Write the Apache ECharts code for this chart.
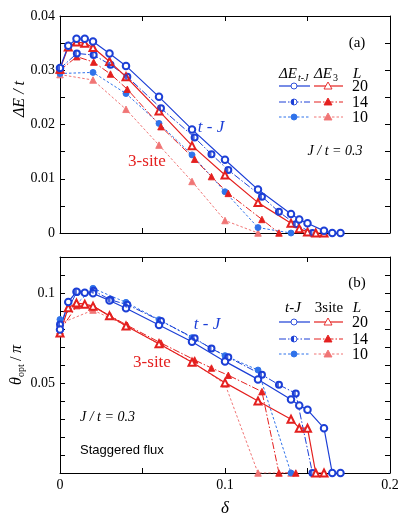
<!DOCTYPE html>
<html>
<head>
<meta charset="utf-8">
<script src="https://cdn.jsdelivr.net/npm/echarts@6/dist/echarts.min.js"></script>
<style>
  html, body { margin: 0; padding: 0; background: #fff; }
  #chart { width: 409px; height: 528px; }
</style>
</head>
<body>
<div id="chart"></div>
<script>
// ---- data: panel (a) energy gain dE/t vs doping ----
var dE_tJ_L20_x = [0, 0.005, 0.01, 0.015, 0.02, 0.03, 0.04, 0.06, 0.08, 0.1, 0.12, 0.14, 0.145, 0.15, 0.16, 0.165, 0.17];
var dE_tJ_L20_y = [0.0304, 0.0345, 0.0358, 0.0358, 0.0353, 0.0331, 0.0308, 0.0251, 0.0191, 0.0135, 0.0080, 0.0035, 0.0025, 0.0018, 0.0004, 0, 0];
var dE_3s_L20_x = [0, 0.005, 0.01, 0.015, 0.02, 0.03, 0.04, 0.06, 0.08, 0.1, 0.12, 0.14, 0.145, 0.15, 0.155, 0.16];
var dE_3s_L20_y = [0.0302, 0.0343, 0.0352, 0.0350, 0.0342, 0.0316, 0.0288, 0.0225, 0.0161, 0.0107, 0.0056, 0.0018, 0.0008, 0.0002, 0, 0];
var dE_tJ_L14_x = [0, 0.0102, 0.0204, 0.0306, 0.0408, 0.0612, 0.0816, 0.0918, 0.102, 0.1224, 0.1327, 0.1429, 0.153];
var dE_tJ_L14_y = [0.0303, 0.0331, 0.0328, 0.0310, 0.0288, 0.0230, 0.0176, 0.0145, 0.0116, 0.0067, 0.0039, 0.0016, 0];
var dE_3s_L14_x = [0, 0.0102, 0.0204, 0.0306, 0.0408, 0.0612, 0.0816, 0.0918, 0.102, 0.1224, 0.1327];
var dE_3s_L14_y = [0.0300, 0.0325, 0.0315, 0.0293, 0.0265, 0.0196, 0.0136, 0.0104, 0.0073, 0.0025, 0];
var dE_tJ_L10_x = [0, 0.02, 0.04, 0.06, 0.08, 0.1, 0.12, 0.14];
var dE_tJ_L10_y = [0.0294, 0.0296, 0.0257, 0.0202, 0.0144, 0.0076, 0.0010, 0];
var dE_3s_L10_x = [0, 0.02, 0.04, 0.06, 0.08, 0.1, 0.12];
var dE_3s_L10_y = [0.0292, 0.0282, 0.0228, 0.0162, 0.0095, 0.0023, 0];

// ---- data: panel (b) optimal flux theta/pi vs doping ----
var th_tJ_L20_x = [0, 0.005, 0.01, 0.015, 0.02, 0.03, 0.04, 0.06, 0.08, 0.1, 0.12, 0.14, 0.145, 0.15, 0.16, 0.165, 0.17];
var th_tJ_L20_y = [0.0797, 0.0950, 0.1007, 0.1002, 0.0998, 0.0958, 0.0915, 0.0822, 0.0729, 0.0620, 0.0520, 0.0408, 0.0375, 0.0351, 0.0249, 0, 0];
var th_3s_L20_x = [0, 0.005, 0.01, 0.015, 0.02, 0.03, 0.04, 0.06, 0.08, 0.1, 0.12, 0.14, 0.145, 0.15, 0.155, 0.16];
var th_3s_L20_y = [0.0778, 0.0918, 0.0944, 0.0938, 0.0927, 0.0873, 0.0817, 0.0718, 0.0615, 0.0502, 0.0400, 0.0299, 0.0249, 0.0249, 0, 0];
var th_tJ_L14_x = [0, 0.0102, 0.0204, 0.0306, 0.0408, 0.0612, 0.0816, 0.0918, 0.102, 0.1224, 0.1327, 0.1429, 0.153];
var th_tJ_L14_y = [0.0825, 0.1005, 0.1012, 0.0962, 0.0935, 0.0845, 0.0748, 0.0691, 0.0643, 0.0546, 0.0490, 0.0442, 0];
var th_3s_L14_x = [0, 0.0102, 0.0204, 0.0306, 0.0408, 0.0612, 0.0816, 0.0918, 0.102, 0.1224, 0.1327, 0.1429];
var th_3s_L14_y = [0.0790, 0.0930, 0.0925, 0.0872, 0.0820, 0.0722, 0.0628, 0.0583, 0.0543, 0.0452, 0, 0];
var th_tJ_L10_x = [0, 0.02, 0.04, 0.06, 0.08, 0.1, 0.12, 0.14];
var th_tJ_L10_y = [0.0853, 0.1026, 0.0948, 0.0852, 0.0752, 0.0652, 0.0572, 0];
var th_3s_L10_x = [0, 0.02, 0.04, 0.06, 0.08, 0.1, 0.12, 0.14];
var th_3s_L10_y = [0.0830, 0.0905, 0.0820, 0.0715, 0.0618, 0.0495, 0, 0];

// tick labels
var topYLabels = [0, 0.01, 0.02, 0.03, 0.04];
var botYLabels = [0.05, 0.1];
var xLabels = [0, 0.1, 0.2];

var BLUE = '#1c3fd6', BLUE_L = '#2f72ea';
var RED = '#e4201f', RED_L = '#f07575';
var SERIF = 'Liberation Serif';
var DASHDOT = [7, 2, 1.5, 2];
var DOT = [2.5, 2];
var HALF = 'path://M10,0 A10,10 0 0,0 10,20 Z';

function zip(xs, ys) {
  return xs.map(function (x, i) { return [x, ys[i]]; });
}
function pick(list) {
  return function (v) {
    for (var i = 0; i < list.length; i++) {
      if (Math.abs(list[i] - v) < 1e-9) return v === 0 ? '0' : String(+v.toFixed(3));
    }
    return '';
  };
}

function lineSeries(g, xs, ys, color, dash, width, symbol, size, fill) {
  return {
    type: 'line', xAxisIndex: g * 2, yAxisIndex: g * 2,
    data: zip(xs, ys), symbol: symbol, symbolSize: size,
    showSymbol: true,
    lineStyle: { color: color, width: width, type: dash },
    itemStyle: { color: fill || color, borderColor: color, borderWidth: 0.9 },
    z: 3
  };
}
function halfSeries(g, xs, ys, color) {
  return {
    type: 'scatter', xAxisIndex: g * 2, yAxisIndex: g * 2,
    data: zip(xs, ys), symbol: HALF, symbolSize: [3, 6], symbolOffset: [-1.5, 0],
    itemStyle: { color: color }, z: 4
  };
}

var series = [];
[[0, [dE_tJ_L20_x, dE_tJ_L20_y, dE_3s_L20_x, dE_3s_L20_y, dE_tJ_L14_x, dE_tJ_L14_y, dE_3s_L14_x, dE_3s_L14_y, dE_tJ_L10_x, dE_tJ_L10_y, dE_3s_L10_x, dE_3s_L10_y]],
 [1, [th_tJ_L20_x, th_tJ_L20_y, th_3s_L20_x, th_3s_L20_y, th_tJ_L14_x, th_tJ_L14_y, th_3s_L14_x, th_3s_L14_y, th_tJ_L10_x, th_tJ_L10_y, th_3s_L10_x, th_3s_L10_y]]
].forEach(function (p) {
  var g = p[0], d = p[1];
  series.push(lineSeries(g, d[10], d[11], RED_L, DOT, 1, 'triangle', 6.5, RED_L));
  series.push(lineSeries(g, d[8], d[9], BLUE_L, DOT, 1, 'circle', 6, BLUE_L));
  series.push(lineSeries(g, d[6], d[7], RED, DASHDOT, 1, 'triangle', 6.5, RED));
  series.push(lineSeries(g, d[4], d[5], BLUE, DASHDOT, 1, 'emptyCircle', 6));
  series.push(halfSeries(g, d[4], d[5], BLUE));
  series.push(lineSeries(g, d[2], d[3], RED, 'solid', 1.2, 'emptyTriangle', 7));
  series.push(lineSeries(g, d[0], d[1], BLUE, 'solid', 1.2, 'emptyCircle', 6.5));
});

function xAx(g, pos, labels) {
  return {
    type: 'value', gridIndex: g, position: pos, min: 0, max: 0.2, interval: 0.05,
    axisLine: { onZero: false, lineStyle: { color: '#000', width: 1 } },
    axisTick: { inside: true, length: 5, lineStyle: { color: '#000' } },
    axisLabel: { show: !!labels, formatter: pick(xLabels), color: '#000', fontFamily: SERIF, fontSize: 14, margin: 5 },
    splitLine: { show: false }
  };
}
function yAx(g, pos, max, interval, labels) {
  return {
    type: 'value', gridIndex: g, position: pos, min: 0, max: max, interval: interval,
    axisLine: { onZero: false, lineStyle: { color: '#000', width: 1 } },
    axisTick: { inside: true, length: 5, lineStyle: { color: '#000' } },
    axisLabel: { show: !!labels, formatter: labels ? pick(labels) : '', color: '#000', fontFamily: SERIF, fontSize: 14, margin: 5 },
    splitLine: { show: false }
  };
}

function txt(x, y, s, o) {
  o = o || {};
  return {
    type: 'text', x: x, y: y, z: 10,
    style: {
      text: s, fill: o.color || '#000', align: o.align || 'left', verticalAlign: 'middle',
      font: (o.italic ? 'italic ' : '') + (o.size || 14) + 'px ' + (o.family || SERIF)
    }
  };
}
function seg(x1, x2, y, color, dash, w) {
  return { type: 'line', z: 10, shape: { x1: x1, y1: y, x2: x2, y2: y },
    style: { stroke: color, lineWidth: w || 1, lineDash: dash === 'solid' ? null : dash } };
}
function circ(x, y, color, kind) {
  var out = [{ type: 'circle', z: 11, shape: { cx: x, cy: y, r: 3 },
    style: { fill: kind === 'full' ? color : '#fff', stroke: color, lineWidth: 0.9 } }];
  if (kind === 'half') {
    out.push({ type: 'sector', z: 12, shape: { cx: x, cy: y, r: 3, r0: 0, startAngle: Math.PI / 2, endAngle: Math.PI * 3 / 2 },
      style: { fill: color } });
  }
  return out;
}
function tri(x, y, color, kind) {
  return { type: 'polygon', z: 11, shape: { points: [[x, y - 4], [x + 4, y + 3], [x - 4, y + 3]] },
    style: { fill: kind === 'empty' ? '#fff' : color, stroke: color, lineWidth: 0.9 } };
}
function legendRows(rows) {
  var els = [];
  var styles = [
    [BLUE, RED, 'solid', 'empty', 'empty', '20', 1.2],
    [BLUE, RED, DASHDOT, 'half', 'full', '14', 1],
    [BLUE_L, RED_L, DOT, 'full', 'full', '10', 1]
  ];
  rows.forEach(function (y, i) {
    var s = styles[i];
    els.push(seg(279, 310, y, s[0], s[2], s[6]));
    els = els.concat(circ(294, y, s[0], s[3]));
    els.push(seg(314, 343, y, s[1], s[2], s[6]));
    els.push(tri(328, y, s[1], s[4]));
    els.push(txt(352, y + 1, s[5], { size: 16 }));
  });
  return els;
}

var graphic = [
  // panel (a) annotations
  txt(357, 43, '(a)', { size: 15, align: 'center' }),
  txt(279, 74, '\u0394E', { italic: true, size: 15 }),
  txt(298, 78, 't-J', { italic: true, size: 10 }),
  txt(314, 74, '\u0394E', { italic: true, size: 15 }),
  txt(333, 78, '3', { size: 10 }),
  txt(353, 74, 'L', { italic: true, size: 15 }),
  txt(211, 128, 't - J', { italic: true, size: 17, color: BLUE, align: 'center' }),
  txt(147, 162, '3-site', { size: 17, color: RED, align: 'center' }),
  txt(335, 151, 'J / t = 0.3', { italic: true, size: 14, align: 'center' }),
  // panel (b) annotations
  txt(357, 283, '(b)', { size: 15, align: 'center' }),
  txt(293, 308, 't-J', { italic: true, size: 15, align: 'center' }),
  txt(329, 308, '3site', { size: 15, align: 'center' }),
  txt(357, 308, 'L', { italic: true, size: 15, align: 'center' }),
  txt(207, 325, 't - J', { italic: true, size: 17, color: BLUE, align: 'center' }),
  txt(152, 363, '3-site', { size: 17, color: RED, align: 'center' }),
  txt(80, 417, 'J / t = 0.3', { italic: true, size: 14 }),
  txt(80, 450, 'Staggered flux', { size: 13, family: 'Liberation Sans' }),
  // axis titles
  txt(225, 509, '\u03b4', { italic: true, size: 17, align: 'center' }),
  {
    type: 'group', x: 20, y: 99, rotation: Math.PI / 2, z: 10,
    children: [txt(0, 0, '\u0394E / t', { italic: true, size: 16, align: 'center' })]
  },
  {
    type: 'group', x: 17, y: 364, rotation: Math.PI / 2, z: 10,
    children: [
      txt(-21, 0, '\u03b8', { italic: true, size: 16 }),
      txt(-13, 4, 'opt', { size: 10 }),
      txt(3, 0, '/', { size: 16 }),
      txt(11, 0, '\u03c0', { italic: true, size: 16 })
    ]
  }
].concat(legendRows([86, 102, 117])).concat(legendRows([322, 339, 354]));

var chart = echarts.init(document.getElementById('chart'));
var option = {
  animation: false,
  backgroundColor: '#fff',
  grid: [
    { left: 60, top: 16, width: 330, height: 217 },
    { left: 60, top: 257, width: 330, height: 216 }
  ],
  xAxis: [xAx(0, 'bottom', false), xAx(0, 'top', false), xAx(1, 'bottom', true), xAx(1, 'top', false)],
  yAxis: [yAx(0, 'left', 0.04, 0.005, topYLabels), yAx(0, 'right', 0.04, 0.005, null),
          yAx(1, 'left', 0.12, 0.01, botYLabels), yAx(1, 'right', 0.12, 0.01, null)],
  graphic: graphic,
  series: series
};
chart.setOption(option);
</script>
</body>
</html>
